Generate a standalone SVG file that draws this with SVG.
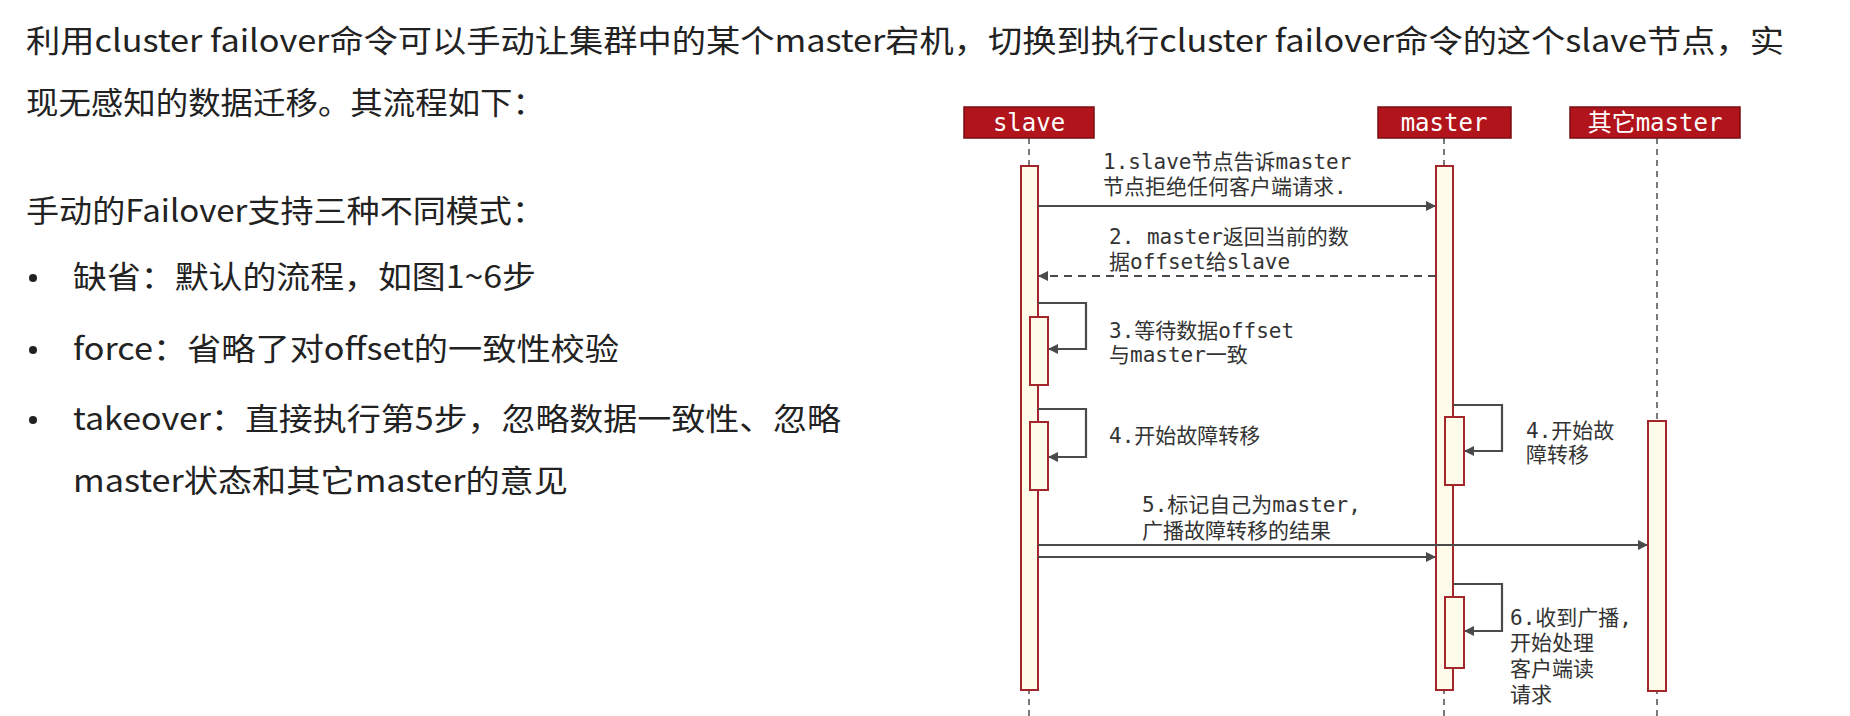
<svg xmlns="http://www.w3.org/2000/svg" width="1850" height="716" viewBox="0 0 1850 716">
<style>
.t{font-family:"Noto Sans CJK SC","Noto Sans",sans-serif;font-size:31px;fill:#222}
.m{font-family:"DejaVu Sans Mono","Noto Sans CJK SC",monospace;font-size:21px;fill:#333}
.h{fill:#b2141c;stroke:#7a0d12;stroke-width:1.5}
.ht{font-family:"DejaVu Sans Mono","Noto Sans CJK SC",monospace;font-size:24px;fill:#fff;text-anchor:middle}
.life{stroke:#333;stroke-width:1.3;stroke-dasharray:6,5}
.act{fill:#fffbea;stroke:#a3262c;stroke-width:2}
.ar{stroke:#4a4a4a;stroke-width:2.2;fill:none}
</style>
<defs><marker id="a" markerWidth="10" markerHeight="10" refX="9" refY="5" orient="auto" markerUnits="userSpaceOnUse"><path d="M0,0 L10,5 L0,10 Z" fill="#4a4a4a"/></marker></defs>
<rect width="1850" height="716" fill="#fff"/>
<g id="intro">
<text class="t" x="26" y="52" textLength="1758" lengthAdjust="spacingAndGlyphs">利用cluster failover命令可以手动让集群中的某个master宕机，切换到执行cluster failover命令的这个slave节点，实</text>
<text class="t" x="26" y="114" textLength="519" lengthAdjust="spacingAndGlyphs">现无感知的数据迁移。其流程如下：</text>
<text class="t" x="26" y="222" textLength="519" lengthAdjust="spacingAndGlyphs">手动的Failover支持三种不同模式：</text>
<circle cx="33" cy="278" r="4" fill="#222"/><text class="t" x="73" y="288" textLength="463" lengthAdjust="spacingAndGlyphs">缺省：默认的流程，如图1~6步</text>
<circle cx="33" cy="350" r="4" fill="#222"/><text class="t" x="73" y="360" textLength="546" lengthAdjust="spacingAndGlyphs">force：省略了对offset的一致性校验</text>
<circle cx="33" cy="420" r="4" fill="#222"/><text class="t" x="73" y="430" textLength="768" lengthAdjust="spacingAndGlyphs">takeover：直接执行第5步，忽略数据一致性、忽略</text>
<text class="t" x="73" y="492" textLength="495" lengthAdjust="spacingAndGlyphs">master状态和其它master的意见</text>
</g>
<g id="slave"><rect class="h" x="964" y="107" width="130" height="31"/><text class="ht" x="1029" y="131">slave</text>
<line class="life" x1="1029" y1="138" x2="1029" y2="716"/><rect class="act" x="1021" y="166" width="17" height="524"/>
<rect class="act" x="1030" y="317" width="18" height="68"/><rect class="act" x="1030" y="422" width="18" height="68"/></g>
<g id="master"><rect class="h" x="1378" y="107" width="133" height="31"/><text class="ht" x="1444" y="131">master</text>
<line class="life" x1="1444" y1="138" x2="1444" y2="716"/><rect class="act" x="1436" y="166" width="17" height="524"/>
<rect class="act" x="1445" y="417" width="19" height="68"/><rect class="act" x="1445" y="597" width="19" height="71"/></g>
<g id="other"><rect class="h" x="1570" y="107" width="170" height="31"/><text class="ht" x="1655" y="131">其它master</text>
<line class="life" x1="1657" y1="138" x2="1657" y2="716"/><rect class="act" x="1648" y="421" width="18" height="270"/></g>
<g id="connectors">
<line class="ar" x1="1038" y1="206" x2="1435" y2="206" marker-end="url(#a)"/>
<line class="ar" x1="1436" y1="276" x2="1039" y2="276" stroke-dasharray="8,6" marker-end="url(#a)"/>
<polyline class="ar" points="1038,303 1086,303 1086,349 1049,349" marker-end="url(#a)"/>
<polyline class="ar" points="1038,409 1086,409 1086,457 1049,457" marker-end="url(#a)"/>
<polyline class="ar" points="1453,405 1502,405 1502,451 1465,451" marker-end="url(#a)"/>
<line class="ar" x1="1038" y1="545" x2="1647" y2="545" marker-end="url(#a)"/>
<line class="ar" x1="1038" y1="557" x2="1435" y2="557" marker-end="url(#a)"/>
<polyline class="ar" points="1453,584 1502,584 1502,631 1465,631" marker-end="url(#a)"/>
</g>
<g id="labels">
<text class="m" x="1103" y="169">1.slave节点告诉master</text><text class="m" x="1103" y="194">节点拒绝任何客户端请求.</text>
<text class="m" x="1109" y="244">2. master返回当前的数</text><text class="m" x="1109" y="269">据offset给slave</text>
<text class="m" x="1109" y="338">3.等待数据offset</text><text class="m" x="1109" y="362">与master一致</text>
<text class="m" x="1109" y="443">4.开始故障转移</text>
<text class="m" x="1526" y="438">4.开始故</text><text class="m" x="1526" y="462">障转移</text>
<text class="m" x="1142" y="512">5.标记自己为master,</text><text class="m" x="1142" y="538">广播故障转移的结果</text>
<text class="m" x="1510" y="625">6.收到广播,</text><text class="m" x="1510" y="650">开始处理</text><text class="m" x="1510" y="676">客户端读</text><text class="m" x="1510" y="702">请求</text>
</g>
</svg>
